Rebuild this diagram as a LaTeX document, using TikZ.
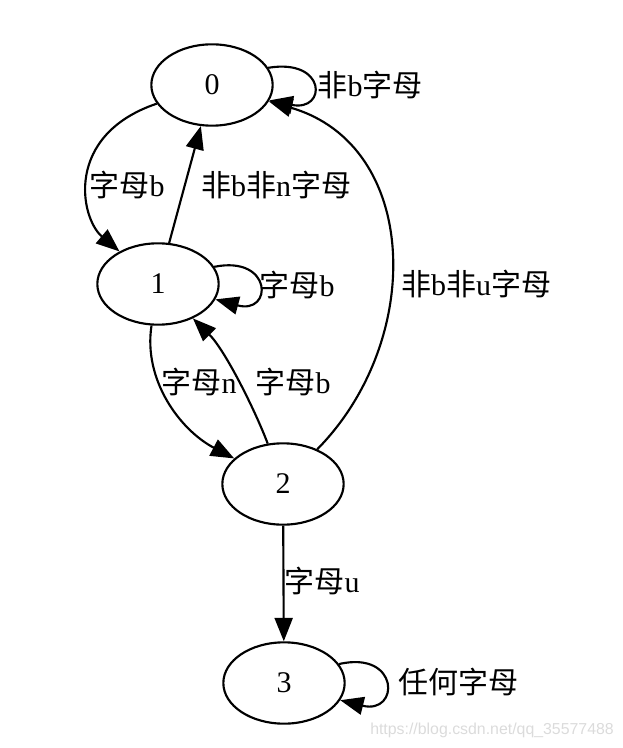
\documentclass[tikz,border=0pt]{standalone}
\usepackage{fontspec}
\setmainfont{Liberation Serif}
\newfontfamily\cjk{Noto Sans CJK SC}
\newfontfamily\wmfont{Liberation Sans}
\usetikzlibrary{shapes.geometric, arrows.meta}
\newcommand{\zh}[1]{{\cjk #1}}

\begin{document}
\begin{tikzpicture}[x=0.75pt, y=-0.75pt, line width=1.6pt,
  every node/.style={font=\fontsize{22.5}{26}\selectfont},
  state/.style={ellipse, draw, minimum width=91pt, minimum height=61pt, inner sep=0pt},
  lab/.style={inner sep=0pt},
  edge/.style={-{Triangle[length=17.5pt, width=13.5pt]}}]
  \useasboundingbox (0,0) rectangle (623,748);
  % states
  \node[state] (n0) at (212,85) {0};
  \node[state] (n1) at (158,284) {1};
  \node[state] (n2) at (283,484) {2};
  \node[state] (n3) at (284,683) {3};
  % transitions
  \draw[edge] (n0) .. controls (64,135) and (80,218) .. (n1);
  \draw[edge] (n1) -- (n0);
  \draw[edge] (n0.17) .. controls (327,58) and (327,112) .. (n0.-15);
  \draw[edge] (n1.17) .. controls (273,255) and (273,315) .. (n1.-15);
  \draw[edge] (n1) .. controls (143,380) and (180,430) .. (n2);
  \draw[edge] (n2) .. controls (255,410) and (225,350) .. (n1);
  \draw[edge] (n2) .. controls (425,340) and (420,145) .. (n0);
  \draw[edge] (n2) -- (n3);
  \draw[edge] (n3.19) .. controls (400,650) and (400,715) .. (n3.-17);
  % labels
  \node[lab] (l01) at (127,185) {\zh{字母}b};
  \node[lab] (l10) at (276,185) {\zh{非}b\zh{非}n\zh{字母}};
  \node[lab] (l00) at (370,85) {\zh{非}b\zh{字母}};
  \node[lab] (l11) at (297,285) {\zh{字母}b};
  \node[lab] (l12) at (199,382) {\zh{字母}n};
  \node[lab] (l21) at (293,382) {\zh{字母}b};
  \node[lab] (l20) at (476,284) {\zh{非}b\zh{非}u\zh{字母}};
  \node[lab] (l23) at (322,581) {\zh{字母}u};
  \node[lab] (l33) at (458,682) {\zh{任何字母}};
  % watermark
  \node[lab, font=\wmfont\fontsize{11.9}{14}\selectfont, text=black!14] (wm) at (492,730) {https://blog.csdn.net/qq\_35577488};
\end{tikzpicture}
\end{document}
